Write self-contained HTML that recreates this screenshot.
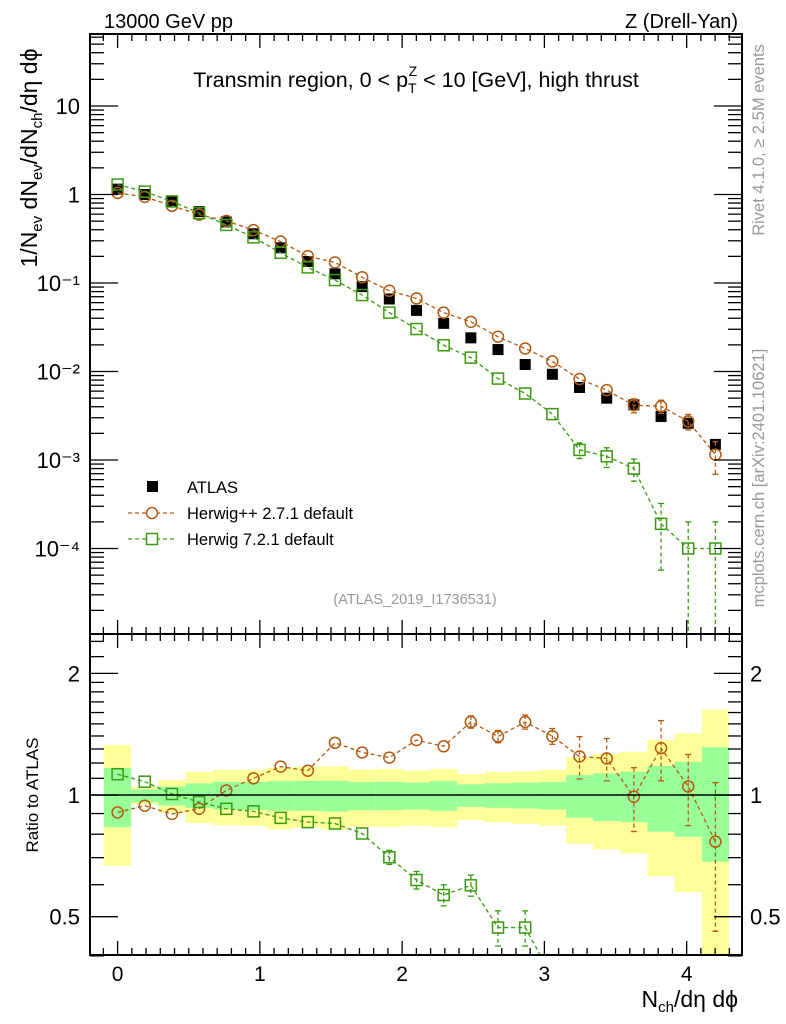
<!DOCTYPE html>
<html><head><meta charset="utf-8"><style>
html,body{margin:0;padding:0;background:#fff;overflow:hidden;width:786px;height:1024px;}
svg{display:block;font-family:"Liberation Sans",sans-serif;}
</style></head><body>
<svg id="chart" width="786" height="1024" viewBox="0 0 786 1024" xmlns="http://www.w3.org/2000/svg">
<defs>
<clipPath id="clipMain"><rect x="90" y="34" width="652" height="600"/></clipPath>
<clipPath id="clipRatio"><rect x="90" y="634" width="652" height="321"/></clipPath>
</defs>
<g id="bands" clip-path="url(#clipRatio)"></g>
<g id="marks"></g>
<g id="axes"></g>
<text x="104" y="28" font-size="20">13000 GeV pp</text>
<text x="738" y="28" font-size="20" text-anchor="end">Z (Drell-Yan)</text>
<text x="416" y="87" font-size="21.5" text-anchor="middle">Transmin region, 0 &lt; p<tspan font-size="14" dy="6">T</tspan><tspan font-size="14" dx="-8" dy="-17">Z</tspan><tspan dy="11"> &lt; 10 [GeV], high thrust</tspan></text>
<text transform="translate(37,158) rotate(-90)" font-size="23" text-anchor="middle">1/N<tspan font-size="15" dy="5">ev</tspan><tspan dy="-5"> dN</tspan><tspan font-size="15" dy="5">ev</tspan><tspan dy="-5">/dN</tspan><tspan font-size="15" dy="5">ch</tspan><tspan dy="-5">/dη dϕ</tspan></text>
<text transform="translate(38,795) rotate(-90)" font-size="17" text-anchor="middle">Ratio to ATLAS</text>
<text x="738" y="1007" font-size="23" text-anchor="end">N<tspan font-size="15" dy="5">ch</tspan><tspan dy="-5">/dη dϕ</tspan></text>
<text transform="translate(764,140) rotate(-90)" font-size="16.5" fill="#999" text-anchor="middle">Rivet 4.1.0, ≥ 2.5M events</text>
<text transform="translate(764,478) rotate(-90)" font-size="16.5" fill="#999" text-anchor="middle">mcplots.cern.ch [arXiv:2401.10621]</text>
<text x="415" y="604" font-size="14.5" fill="#999" text-anchor="middle">(ATLAS_2019_I1736531)</text>
<g>
<rect x="147" y="481" width="11" height="11" fill="#000"/>
<text x="187" y="493" font-size="16.5">ATLAS</text>
<line x1="128" y1="513" x2="176" y2="513" stroke="#b35a10" stroke-width="1.2" stroke-dasharray="4,3"/>
<circle cx="152" cy="513" r="5.5" fill="#fff" stroke="#b35a10" stroke-width="1.5"/>
<text x="187" y="519" font-size="16.5">Herwig++ 2.7.1 default</text>
<line x1="128" y1="539" x2="176" y2="539" stroke="#3a9a10" stroke-width="1.2" stroke-dasharray="4,3"/>
<rect x="146.5" y="533.5" width="11" height="11" fill="#fff" stroke="#3a9a10" stroke-width="1.5"/>
<text x="187" y="545" font-size="16.5">Herwig 7.2.1 default</text>
</g>
</svg>
<script>
const xCenters = [0,0.191,0.382,0.573,0.764,0.955,1.146,1.337,1.528,1.719,1.91,2.101,2.292,2.483,2.674,2.865,3.056,3.247,3.438,3.629,3.82,4.011,4.202];
const atlasValues = [1.15,1.0,0.83,0.64,0.49,0.36,0.25,0.175,0.127,0.091,0.066,0.049,0.035,0.024,0.0177,0.012,0.0093,0.0066,0.0050,0.0042,0.0031,0.0026,0.0015];
const herwigppValues = [1.042,0.941,0.745,0.592,0.503,0.396,0.294,0.201,0.171,0.116,0.0817,0.067,0.0462,0.0364,0.0247,0.0182,0.013,0.00822,0.00616,0.00416,0.00405,0.00273,0.00115];
const herwigppRelErr = [.02,.015,.015,.015,.015,.015,.02,.02,.02,.025,.025,.03,.03,.035,.035,.04,.045,.12,.12,.18,.17,.2,.4];
const herwig7Values = [1.295,1.079,0.835,0.615,0.453,0.328,0.2195,0.150,0.108,0.0731,0.0463,0.0302,0.0198,0.01435,0.00832,0.00564,0.0033,0.0013,0.0011,0.0008,0.00019,0.0001,0.0001];
const herwig7RelErr = [.02,.02,.02,.02,.02,.02,.02,.02,.02,.03,.04,.05,.06,.06,.1,.1,.12,.2,.25,.28,.7,1,1];
const bandTotalUp = [1.329,1.047,1.088,1.141,1.154,1.154,1.169,1.176,1.176,1.157,1.161,1.149,1.161,1.128,1.139,1.145,1.154,1.241,1.265,1.279,1.37,1.421,1.628];
const bandTotalDown = [0.668,0.948,0.904,0.853,0.842,0.838,0.823,0.832,0.822,0.835,0.835,0.839,0.833,0.867,0.857,0.85,0.84,0.758,0.734,0.717,0.63,0.576,0.3];
const bandStatUp = [1.167,1.033,1.05,1.069,1.079,1.077,1.083,1.085,1.085,1.077,1.079,1.073,1.083,1.063,1.069,1.073,1.077,1.121,1.131,1.143,1.181,1.208,1.314];
const bandStatDown = [0.833,0.959,0.941,0.930,0.921,0.919,0.914,0.914,0.910,0.917,0.917,0.921,0.914,0.935,0.930,0.926,0.921,0.878,0.862,0.857,0.812,0.788,0.684];
const binWidth = 0.191;
const xTickLabels = ["0","1","2","3","4"];
const mainTickLabels = ["10","1","10⁻¹","10⁻²","10⁻³","10⁻⁴"];
const mainTickValues = [10,1,0.1,0.01,0.001,0.0001];
const ratioTickValues = [2,1,0.5];
const ratioTickLabels = ["2","1","0.5"];

const NS="http://www.w3.org/2000/svg";
const X0=90,X1=742,YT=34,YM=634,YB=955;
const xMin=-0.194,xMax=4.389;
const sx=v=>X0+(v-xMin)/(xMax-xMin)*(X1-X0);
const lMin=-4.966,lMax=1.8136;
const sy=v=>YM-(Math.log10(v)-lMin)/(lMax-lMin)*(YM-YT);
const rMin=Math.log10(0.402),rMax=Math.log10(2.503);
const sr=v=>YB-(Math.log10(v)-rMin)/(rMax-rMin)*(YB-YM);
function mk(tag,attrs,parent){const e=document.createElementNS(NS,tag);for(const k in attrs)e.setAttribute(k,attrs[k]);parent.appendChild(e);return e;}
const bands=document.getElementById('bands');
const marks=document.getElementById('marks');
const axes=document.getElementById('axes');

xCenters.forEach((c,i)=>{
  const x1=sx(c-binWidth/2),x2=sx(c+binWidth/2);
  const y=mk('rect',{x:x1,y:sr(bandTotalUp[i]),width:x2-x1,height:sr(bandTotalDown[i])-sr(bandTotalUp[i]),fill:'#ffff99'},bands);
  
  
  const g=mk('rect',{x:x1,y:sr(bandStatUp[i]),width:x2-x1,height:sr(bandStatDown[i])-sr(bandStatUp[i]),fill:'#99ff99'},bands);
  
  
});
const one=mk('line',{x1:X0,x2:X1,y1:sr(1),y2:sr(1),stroke:'#000','stroke-width':1.5},axes);



function series(vals,errs,ys,clip,color,shape,name){
  const g=mk('g',{'clip-path':`url(#${clip})`},marks);
  
  
  const pts=vals.map((v,i)=>[sx(xCenters[i]),ys(v,i)]);
  mk('polyline',{points:pts.map(p=>p.join(',')).join(' '),fill:'none',stroke:color,'stroke-width':1.3,'stroke-dasharray':'4,3'},g);
  vals.forEach((v,i)=>{
    const x=pts[i][0],y=pts[i][1];
    const e=errs[i];
    const yu=ys(v*(1+e),i), yd=(1-e)>0.001?ys(v*(1-e),i):2000;
    if(Math.abs(yd-yu)>12){
      mk('line',{x1:x,x2:x,y1:yu,y2:yd,stroke:color,'stroke-width':1.3,'stroke-dasharray':'4,3'},g);
      mk('line',{x1:x-3,x2:x+3,y1:yu,y2:yu,stroke:color,'stroke-width':1.3},g);
      mk('line',{x1:x-3,x2:x+3,y1:yd,y2:yd,stroke:color,'stroke-width':1.3},g);
    }
    let m;
    if(shape==='circle') m=mk('circle',{cx:x,cy:y,r:5.5,fill:'none',stroke:color,'stroke-width':1.5},g);
    else m=mk('rect',{x:x-5.5,y:y-5.5,width:11,height:11,fill:'none',stroke:color,'stroke-width':1.5},g);
    
    
  });
}
const dg=mk('g',{'clip-path':'url(#clipMain)'},marks);


atlasValues.forEach((v,i)=>{
  const r=mk('rect',{x:sx(xCenters[i])-5.5,y:sy(v)-5.5,width:11,height:11,fill:'#000'},dg);
  
  
});
series(herwigppValues,herwigppRelErr,v=>sy(v),'clipMain','#b35a10','circle','herwigpp-series');
series(herwig7Values,herwig7RelErr,v=>sy(v),'clipMain','#3a9a10','square','herwig7-series');
series(herwigppValues.map((v,i)=>v/atlasValues[i]),herwigppRelErr,v=>sr(v),'clipRatio','#b35a10','circle','herwigpp-ratio');
series(herwig7Values.map((v,i)=>v/atlasValues[i]),herwig7RelErr,v=>sr(v),'clipRatio','#3a9a10','square','herwig7-ratio');

[[YT,YM,'main-frame'],[YM,YB,'ratio-frame']].forEach(([a,b,n])=>{
  const f=mk('rect',{x:X0,y:a,width:X1-X0,height:b-a,fill:'none',stroke:'#000','stroke-width':2},axes);
  
  
});
for(let k=-1;k<=43;k++){
  const v=k/10; if(v<xMin||v>xMax)continue;
  const x=sx(v), major=(k%10===0), L=major?14:7;
  [[YT,1],[YM,-1],[YM,1],[YB,-1]].forEach(([y,d])=>mk('line',{x1:x,x2:x,y1:y,y2:y+d*L,stroke:'#000','stroke-width':1.3},axes));
}
xTickLabels.forEach((t,i)=>{
  const e=mk('text',{x:sx(i),y:981,'font-size':21,'text-anchor':'middle'},axes);
  e.textContent=t;
  
  
});
for(let d=-5;d<=1;d++){for(let m=1;m<=9;m++){
  const v=m*Math.pow(10,d); const y=sy(v); if(y<YT||y>YM)continue;
  const L=m===1?28:14;
  mk('line',{x1:X0,x2:X0+L,y1:y,y2:y,stroke:'#000','stroke-width':1.3},axes);
  mk('line',{x1:X1,x2:X1-L,y1:y,y2:y,stroke:'#000','stroke-width':1.3},axes);
}}
mainTickValues.forEach((v,i)=>{
  const e=mk('text',{x:80,y:sy(v)+8,'font-size':22,'text-anchor':'end'},axes);
  e.textContent=mainTickLabels[i];
  
  
});
[0.4,0.5,0.6,0.7,0.8,0.9,1,1.1,1.2,1.3,1.4,1.5,1.6,1.7,1.8,1.9,2,2.2,2.4].forEach(v=>{
  const y=sr(v); const L=(v===0.5||v===1||v===2)?28:14;
  mk('line',{x1:X0,x2:X0+L,y1:y,y2:y,stroke:'#000','stroke-width':1.3},axes);
  mk('line',{x1:X1,x2:X1-L,y1:y,y2:y,stroke:'#000','stroke-width':1.3},axes);
});
ratioTickValues.forEach((v,i)=>{
  const e=mk('text',{x:80,y:sr(v)+8,'font-size':22,'text-anchor':'end'},axes);
  e.textContent=ratioTickLabels[i];
  
  
  const e2=mk('text',{x:750,y:sr(v)+8,'font-size':22},axes);
  e2.textContent=ratioTickLabels[i];
  
  
});
</script>
</body></html>
